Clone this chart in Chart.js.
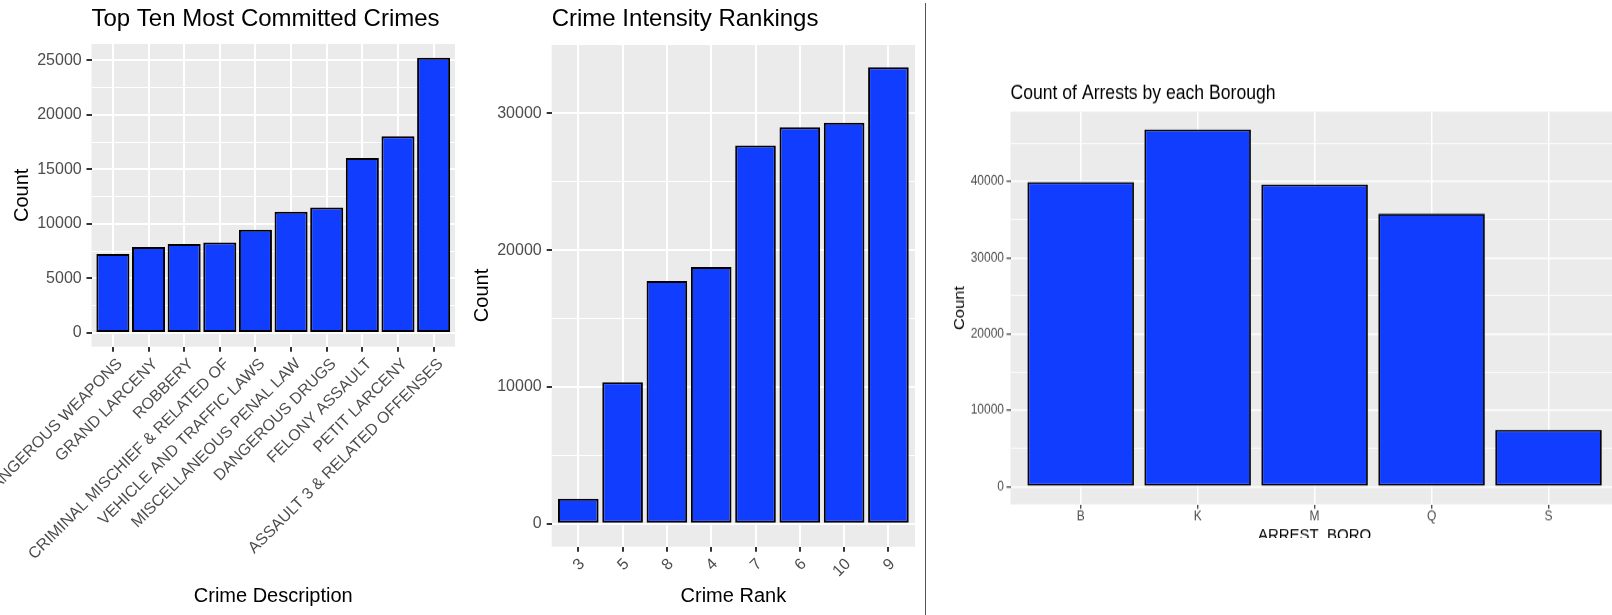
<!DOCTYPE html>
<html>
<head>
<meta charset="utf-8">
<script src="https://cdn.jsdelivr.net/npm/chart.js@4.4.1/dist/chart.umd.min.js"></script>
<style>
  html, body { margin: 0; padding: 0; background: #fff; width: 1612px; height: 615px; overflow: hidden; }
  #crimes { position: absolute; left: 0; top: 0; }
  #ranks { position: absolute; left: 460px; top: 0; }
  #divider { position: absolute; left: 925px; top: 3px; width: 1px; height: 612px; background: #555; }
  #boroClip { position: absolute; left: 930px; top: 0; width: 682px; height: 538px; overflow: hidden; }
  #boroWrap { width: 700px; height: 500px; transform: scaleY(1.1); transform-origin: 0 0; }
</style>
</head>
<body>
<canvas id="crimes" width="460" height="615"></canvas>
<canvas id="ranks" width="465" height="615"></canvas>
<div id="divider"></div>
<div id="boroClip"><div id="boroWrap"><canvas id="boro" width="700" height="500"></canvas></div></div>
<script>
const FONT = "'Liberation Sans', Arial, Helvetica, sans-serif";

// Top ten offence descriptions and their counts
const crimeNames = ['DANGEROUS WEAPONS', 'GRAND LARCENY', 'ROBBERY', 'CRIMINAL MISCHIEF & RELATED OF',
  'VEHICLE AND TRAFFIC LAWS', 'MISCELLANEOUS PENAL LAW', 'DANGEROUS DRUGS', 'FELONY ASSAULT',
  'PETIT LARCENY', 'ASSAULT 3 & RELATED OFFENSES'];
const crimeCounts = [7240, 7880, 8150, 8300, 9460, 11110, 11510, 16050, 18040, 25240];
const crimeTicks = [0, 5000, 10000, 15000, 20000, 25000];

// Crime intensity ranks
const rankLabels = ['3', '5', '8', '4', '7', '6', '10', '9'];
const rankCounts = [1830, 10350, 17750, 18770, 27660, 28980, 29320, 33380];
const rankTicks = [0, 10000, 20000, 30000];

// Arrests per borough
const boroLabels = ['B', 'K', 'M', 'Q', 'S'];
const boroCounts = [39920, 46820, 39610, 35800, 7430];
const boroTicks = [0, 10000, 20000, 30000, 40000];

// grey panel behind the plotting area
const panelBg = {
  id: 'panelBg',
  beforeDraw(chart, args, opts) {
    const { ctx, chartArea: a } = chart;
    ctx.save();
    ctx.fillStyle = opts.color;
    ctx.fillRect(a.left, a.top, a.right - a.left, a.bottom - a.top);
    ctx.restore();
  }
};

function panel(id, p) {
  const top = Math.max(...p.values);
  const yMin = -0.05 * top, yMax = 1.05 * top;
  const step = p.ticks[1] - p.ticks[0];
  const minor = p.ticks.map(v => v + step / 2).filter(v => v > yMin && v < yMax);
  const allTicks = p.ticks.concat(minor).sort((a, b) => a - b);
  const isMajor = v => p.ticks.includes(v);

  return new Chart(document.getElementById(id), {
    type: 'bar',
    data: {
      labels: p.labels,
      datasets: [{
        data: p.values,
        backgroundColor: '#113DFF',
        borderColor: '#000000',
        borderWidth: p.barBorder,
        borderSkipped: false,
        barPercentage: p.barPct,
        categoryPercentage: 1
      }]
    },
    options: {
      responsive: false,
      animation: false,
      devicePixelRatio: 1,
      layout: { padding: { left: 0, top: 0, bottom: 0, right: p.padRight } },
      plugins: {
        legend: { display: false },
        tooltip: { enabled: false },
        panelBg: { color: '#EBEBEB' },
        title: {
          display: true, text: p.title, align: 'start', fullSize: false, color: '#000',
          font: { family: FONT, size: p.titleSize, weight: 'normal' },
          padding: { top: p.titleTop, bottom: p.titleBottom }
        }
      },
      scales: {
        x: {
          type: 'category',
          offset: true,
          grid: { offset: false, color: '#FFFFFF', lineWidth: p.gridMajor, tickLength: p.tickLen, tickColor: '#333333', tickWidth: p.tickW },
          border: { display: false },
          ticks: {
            autoSkip: false, minRotation: p.rot, maxRotation: p.rot, color: '#4D4D4D',
            font: { family: FONT, size: p.tickSize }, padding: p.xTickPad, labelOffset: p.xLabelOffset
          },
          title: {
            display: true, text: p.xTitle, color: '#000',
            font: { family: FONT, size: p.axisTitleSize }, padding: { top: 0, bottom: p.xTitlePad }
          },
          // discrete axis expanded by 0.6 of a category on each side
          afterBuildTicks: s => { s._startValue -= 0.1; s._valueRange += 0.2; },
          afterFit: s => {
            s.height = p.xAxisH;
            s.paddingLeft = s.paddingRight = s.paddingTop = s.paddingBottom = 0;
          }
        },
        y: {
          type: 'linear',
          min: yMin,
          max: yMax,
          afterBuildTicks: s => { s.ticks = allTicks.map(v => ({ value: v })); },
          grid: {
            color: '#FFFFFF',
            lineWidth: c => isMajor(c.tick.value) ? p.gridMajor : p.gridMinor,
            tickLength: p.tickLen,
            tickColor: c => isMajor(c.tick.value) ? '#333333' : 'rgba(0,0,0,0)',
            tickWidth: p.tickW
          },
          border: { display: false },
          ticks: {
            callback: v => isMajor(v) ? String(v) : '',
            color: '#4D4D4D', font: { family: FONT, size: p.tickSize }, padding: p.yTickPad
          },
          title: {
            display: true, text: 'Count', color: '#000',
            font: { family: FONT, size: p.axisTitleSize }, padding: { top: p.yTitlePad, bottom: 0 }
          },
          afterFit: s => {
            s.width = p.yAxisW;
            s.paddingLeft = s.paddingRight = s.paddingTop = s.paddingBottom = 0;
          }
        }
      }
    },
    plugins: [panelBg]
  });
}

panel('crimes', {
  labels: crimeNames, values: crimeCounts, ticks: crimeTicks,
  title: 'Top Ten Most Committed Crimes', xTitle: 'Crime Description',
  titleSize: 24, titleTop: 4.6, titleBottom: 10.6,
  tickSize: 16, axisTitleSize: 20, rot: 45,
  yAxisW: 91.5, xAxisH: 268.3, padRight: 5,
  tickLen: 5, tickW: 2, gridMajor: 2, gridMinor: 1,
  yTickPad: 4.8, xTickPad: 3, xLabelOffset: 7,
  yTitlePad: 10.3, xTitlePad: 6.6,
  barPct: 0.927, barBorder: 2
});

panel('ranks', {
  labels: rankLabels, values: rankCounts, ticks: rankTicks,
  title: 'Crime Intensity Rankings', xTitle: 'Crime Rank',
  titleSize: 24, titleTop: 4.6, titleBottom: 10.9,
  tickSize: 16, axisTitleSize: 20, rot: 45,
  yAxisW: 91.7, xAxisH: 68.3, padRight: 10,
  tickLen: 5, tickW: 2, gridMajor: 2, gridMinor: 1,
  yTickPad: 5, xTickPad: 3, xLabelOffset: 4,
  yTitlePad: 10.3, xTitlePad: 7,
  barPct: 0.917, barBorder: 2
});

panel('boro', {
  labels: boroLabels, values: boroCounts, ticks: boroTicks,
  title: 'Count of Arrests by each Borough', xTitle: 'ARREST_BORO',
  titleSize: 17.6, titleTop: 74.2, titleBottom: 6.2,
  tickSize: 12, axisTitleSize: 15, rot: 0,
  yAxisW: 80.5, xAxisH: 41.5, padRight: 11.3,
  tickLen: 4, tickW: 1.2, gridMajor: 1.5, gridMinor: 0.8,
  yTickPad: 2.5, xTickPad: 0.4, xLabelOffset: 0,
  yTitlePad: 20.6, xTitlePad: 3.7,
  barPct: 0.911, barBorder: 1.8
});
</script>
</body>
</html>
